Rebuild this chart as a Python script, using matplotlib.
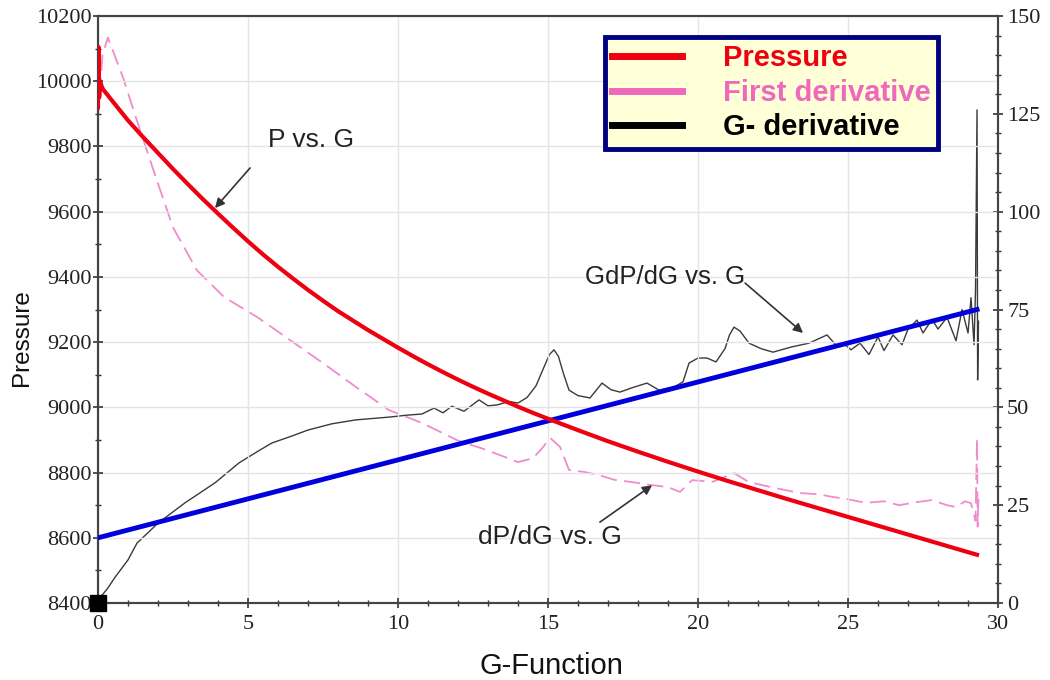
import matplotlib
matplotlib.use("Agg")
import matplotlib.pyplot as plt
from matplotlib.lines import Line2D
from matplotlib.ticker import MultipleLocator

# pressure vs G (left axis)
press_g = [0.0, 0.02, 0.04, 0.07, 0.12, 0.17, 0.5, 1, 1.5, 2, 2.5, 3, 3.5, 4, 4.5, 5, 5.5, 6,
           6.5, 7, 7.5, 8, 8.5, 9, 9.5, 10, 10.5, 11, 11.5, 12, 12.5, 13, 13.5, 14, 14.5, 15,
           16, 17, 18, 19, 20, 21, 22, 23, 24, 25, 26, 27, 28, 29, 29.3]
press = [9920, 10105, 9950, 10000, 9985, 9975, 9937, 9880, 9829, 9780, 9731, 9684, 9638, 9594,
         9551, 9509, 9469, 9431, 9395, 9360, 9327, 9295, 9266, 9237, 9210, 9183, 9157, 9132,
         9108, 9085, 9063, 9042, 9022, 9002, 8983, 8965, 8930, 8896, 8864, 8833, 8803, 8774,
         8746, 8718, 8691, 8664, 8637, 8610, 8583, 8556, 8548]

# straight line through G-derivative (left axis units)
fit_g = [0.0, 29.3]
fit_p = [8600, 9300]

# first derivative dP/dG (right axis)
d1_g = [0, 0.15, 0.33, 0.83, 1.4, 1.96, 2.5, 3.3, 4.2, 5.3, 6.4, 7.5, 8.6, 9.7, 10.8, 11.2,
        12.0, 12.8, 13.5, 14.0, 14.5, 14.8, 15.07, 15.4, 15.7, 16.2, 16.7, 17.2, 17.8, 18.4,
        19.0, 19.4, 19.8, 20.5, 21.2, 21.7, 22.5, 23.4, 24.0, 24.5, 25.0, 25.6, 26.2, 26.7,
        27.3, 27.8, 28.3, 28.6, 28.9, 29.1, 29.25, 29.3, 29.32, 29.35]
d1 = [124, 140, 144.5, 134.4, 120.9, 108.1, 96, 85, 78.2, 73.1, 67.2, 61.3, 55.2, 49.3, 46.0,
      44.5, 41.5, 39.5, 37.5, 36.0, 37.0, 39.5, 42.2, 39.9, 34.0, 33.5, 32.7, 31.5, 30.9, 30.2,
      29.6, 28.4, 31.4, 31.0, 33.2, 30.9, 29.5, 28.1, 27.8, 27.1, 26.5, 25.6, 26.0, 25.0, 25.8,
      26.3, 25.0, 24.5, 26.0, 25.5, 21, 42, 19.5, 27]

# G dP/dG (right axis)
gd_g = [0, 0.3, 0.57, 1.0, 1.3, 2.0, 2.9, 3.9, 4.7, 5.4, 5.8, 6.4, 7.0, 7.8, 8.6, 9.7, 10.3,
        10.8, 11.2, 11.5, 11.8, 12.2, 12.7, 13.0, 13.3, 13.7, 14.0, 14.3, 14.6, 14.85, 15.05,
        15.2, 15.35, 15.5, 15.7, 16.0, 16.4, 16.8, 17.1, 17.4, 17.8, 18.3, 18.7, 19.2, 19.5,
        19.7, 20.0, 20.3, 20.6, 20.9, 21.05, 21.2, 21.4, 21.7, 22.1, 22.5, 23.1, 23.7, 24.3,
        24.6, 24.9, 25.1, 25.4, 25.7, 26.0, 26.2, 26.5, 26.8, 27.0, 27.3, 27.5, 27.8, 28.0,
        28.3, 28.6, 28.8, 29.0, 29.1, 29.2, 29.25, 29.3, 29.32, 29.35]
gd = [0.8, 3.5, 6.6, 11, 15.3, 20.4, 25.6, 30.7, 35.8, 39.1, 40.9, 42.5, 44.2, 45.8, 46.8,
      47.5, 48.0, 48.3, 49.8, 48.6, 50.3, 49.0, 51.9, 50.4, 50.6, 51.5, 51.1, 52.5, 55.5, 60.0,
      63.5, 64.7, 63.0, 59.0, 54.4, 53.0, 52.4, 56.2, 54.5, 53.9, 55.0, 56.2, 54.4, 55.2, 56.5,
      61.3, 62.6, 62.6, 61.6, 65.0, 68.5, 70.5, 69.5, 66.4, 65.0, 64.1, 65.4, 66.4, 68.5, 65.9,
      66.0, 64.7, 66.4, 63.5, 68.0, 64.5, 68.5, 66.0, 70.0, 72.3, 69.0, 72.5, 70.0, 73.0, 67.0,
      75.0, 69.0, 78.0, 66.0, 80.0, 126, 57, 72]

serif = "Liberation Serif"
sans = "Liberation Sans"

fig = plt.figure(figsize=(10.5, 6.8), dpi=100)
ax = fig.add_axes([0.0933, 0.1132, 0.8572, 0.8633])
ax2 = ax.twinx()

ax.set_xlim(0, 30)
ax.set_ylim(8400, 10200)
ax2.set_ylim(0, 150)

ax.grid(True, color="#e4e4e4", lw=1.0)
ax.set_axisbelow(True)

ax2.plot(d1_g, d1, color="#f08ccc", lw=1.3, dashes=(9, 4), zorder=2)
ax2.plot(gd_g, gd, color="#3a3a3a", lw=1.0, zorder=3)
ax.plot(fit_g, fit_p, color="#0000dd", lw=3.5, zorder=4)
ax.plot(press_g, press, color="#ee0010", lw=3, zorder=5, solid_joinstyle="round")
ax.plot([0], [8400], marker="s", color="black", ms=11, clip_on=False, zorder=6)
ax.set_zorder(ax2.get_zorder() + 1)
ax.patch.set_visible(False)

ax.xaxis.set_major_locator(MultipleLocator(5))
ax.xaxis.set_minor_locator(MultipleLocator(1))
ax.yaxis.set_major_locator(MultipleLocator(200))
ax.yaxis.set_minor_locator(MultipleLocator(100))
ax2.yaxis.set_major_locator(MultipleLocator(25))
ax2.yaxis.set_minor_locator(MultipleLocator(5))

for a in (ax, ax2):
    a.tick_params(which="major", direction="inout", length=7, width=1.2, color="#333",
                  labelsize=16, pad=1)
    a.tick_params(which="minor", direction="inout", length=4, width=1.0, color="#333")
    for s in a.spines.values():
        s.set_color("#444")
        s.set_linewidth(1.5)
    for lab in a.get_xticklabels() + a.get_yticklabels():
        lab.set_fontfamily(serif)
        lab.set_color("#222")
ax.tick_params(axis="x", which="major", pad=5)
ax2.tick_params(axis="y", which="major", pad=3)

ax.set_xlabel("G-Function", fontfamily=sans, fontsize=21, color="#111")
ax.xaxis.set_label_coords(0.504, -0.083)
ax.set_ylabel("Pressure", fontfamily=sans, fontsize=17.5, color="#111")
ax.yaxis.set_label_coords(-0.072, 0.453)

arrow = dict(arrowstyle="-|>", color="#333", lw=1.2, mutation_scale=14, shrinkA=0, shrinkB=0)
ax.text(5.67, 9820, "P vs. G", fontfamily=sans, fontsize=19, va="center", color="#222")
ax.annotate("", xy=(3.9, 9611), xytext=(5.07, 9734), arrowprops=arrow)
ax.text(16.23, 9399, "GdP/dG vs. G", fontfamily=sans, fontsize=18.5, va="center", color="#222")
ax.annotate("", xy=(23.5, 9228), xytext=(21.57, 9381), arrowprops=arrow)
ax.text(12.67, 8602, "dP/dG vs. G", fontfamily=sans, fontsize=19, va="center", color="#222")
ax.annotate("", xy=(18.47, 8761), xytext=(16.73, 8648), arrowprops=arrow)

handles = [Line2D([], [], color="#ee0010", lw=5),
           Line2D([], [], color="#f068bc", lw=5),
           Line2D([], [], color="black", lw=5)]
labels = ["Pressure", "First derivative", "G- derivative"]
leg = ax.legend(handles, labels, loc="upper left", bbox_to_anchor=(0.563, 0.964),
                prop={"family": sans, "weight": "bold", "size": 21},
                labelcolor=["#ee0010", "#f068bc", "black"], handlelength=2.4,
                handletextpad=1.4, borderpad=0.25, labelspacing=0.22, fancybox=False,
                framealpha=1, borderaxespad=0)
leg.get_frame().set_facecolor("#ffffd8")
leg.get_frame().set_edgecolor("#000080")
leg.get_frame().set_linewidth(3.5)
leg.set_zorder(10)

fig.savefig("out.png", dpi=100)
